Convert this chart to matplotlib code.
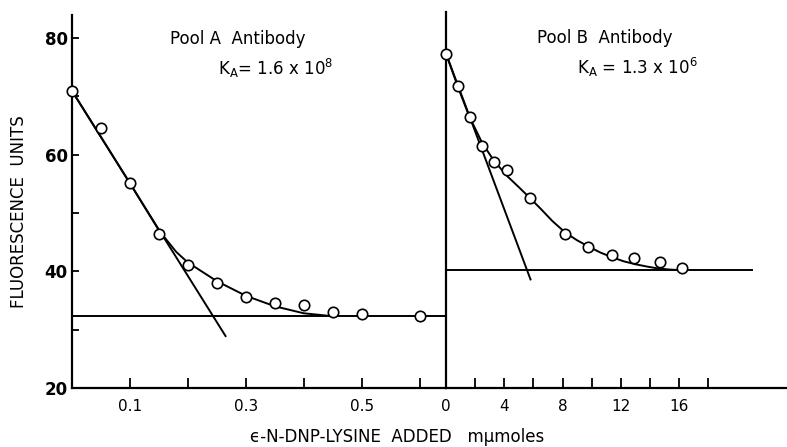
import numpy as np
import matplotlib
matplotlib.use("Agg")
import matplotlib.pyplot as plt

# Pool A antibody: DNP-lysine added (mumoles) vs fluorescence
pool_a_x = [0.0, 0.05, 0.10, 0.15, 0.20, 0.25, 0.30, 0.35, 0.40, 0.45, 0.50, 0.60]
pool_a_y = [70.9, 64.6, 55.1, 46.4, 41.1, 38.0, 35.6, 34.5, 34.2, 33.0, 32.6, 32.4]
# hand-drawn curve through the pool A points
curve_a_x = [0.0, 0.10, 0.15, 0.18, 0.20, 0.25, 0.30, 0.35, 0.40, 0.44]
curve_a_y = [70.9, 55.1, 47.0, 43.3, 41.5, 38.3, 35.8, 34.0, 32.8, 32.4]
tangent_a_x = [0.0, 0.265]
tangent_a_y = [70.9, 28.9]
plateau_a = 32.3

# Pool B antibody
pool_b_x = [0.0, 0.82, 1.62, 2.47, 3.29, 4.19, 5.74, 8.19, 9.75, 11.4, 12.9, 14.7, 16.2]
pool_b_y = [77.3, 71.7, 66.4, 61.5, 58.7, 57.4, 52.6, 46.4, 44.1, 42.7, 42.3, 41.5, 40.6]
curve_b_x = [0.0, 0.8, 1.6, 2.5, 3.3, 4.2, 5.0, 5.7, 6.5, 7.3, 8.2, 9.0, 9.8, 10.6,
             11.4, 12.2, 13.0, 13.8, 14.5, 15.3, 16.0]
curve_b_y = [77.3, 71.7, 66.5, 61.9, 58.9, 56.3, 54.4, 52.7, 50.7, 48.6, 46.6, 45.3,
             44.2, 43.2, 42.4, 41.7, 41.2, 40.8, 40.5, 40.3, 40.2]
tangent_b_x = [0.0, 5.8]
tangent_b_y = [77.3, 38.6]
plateau_b = 40.2

W, H = 787, 447
fig = plt.figure(figsize=(W / 100, H / 100), dpi=100)

def px_rect(x0, x1, ytop, ybot):
    return [x0 / W, 1 - ybot / H, (x1 - x0) / W, (ybot - ytop) / H]

ax1 = fig.add_axes(px_rect(72, 446, 15, 388))
ax2 = fig.add_axes(px_rect(446, 787, 15, 388))

lw = 1.4

for ax in (ax1, ax2):
    ax.set_ylim(20, 83.9)
    for s in ("top", "right"):
        ax.spines[s].set_visible(False)
    ax.spines["left"].set_linewidth(1.6)
    ax.spines["bottom"].set_linewidth(1.6)
    ax.tick_params(axis="x", direction="in", length=7, width=1.3, pad=8,
                   labelsize=11)
    ax.set_facecolor("none")

# left panel
ax1.set_xlim(0, 0.6455)
ax1.set_xticks([0.1, 0.3, 0.5])
ax1.set_xticklabels(["0.1", "0.3", "0.5"])
ax1.set_xticks([0.2, 0.4, 0.6], minor=True)
ax1.tick_params(axis="x", which="minor", direction="in", length=7, width=1.3)
ax1.set_yticks([20, 40, 60, 80])
ax1.set_yticks([30, 50, 70], minor=True)
ax1.tick_params(axis="y", which="both", direction="in", length=5, width=1.3,
                labelsize=12, pad=3)
for t in ax1.get_yticklabels():
    t.set_fontweight("bold")

ax1.plot(curve_a_x, curve_a_y, color="black", lw=lw, zorder=2)
ax1.plot(tangent_a_x, tangent_a_y, color="black", lw=lw, zorder=2)
ax1.axhline(plateau_a, color="black", lw=lw, zorder=2)
ax1.plot(pool_a_x, pool_a_y, "o", ms=7.5, mfc="white", mec="black", mew=1.2,
         zorder=3, clip_on=False)
ax1.text(0.169, 79.8, "Pool A  Antibody", fontsize=12, va="center")
ax1.text(0.252, 74.8, r"K$_\mathregular{A}$= 1.6 x 10$^\mathregular{8}$",
         fontsize=12, va="center")

# right panel
ax2.set_xlim(0, 23.4)
ax2.set_xticks([0, 4, 8, 12, 16])
ax2.set_xticks([2, 6, 10, 14, 18], minor=True)
ax2.tick_params(axis="x", which="minor", direction="in", length=7, width=1.3)
ax2.set_yticks([])
ax2.spines["left"].set_bounds(20, 84.4)

ax2.plot(curve_b_x, curve_b_y, color="black", lw=lw, zorder=2)
ax2.plot(tangent_b_x, tangent_b_y, color="black", lw=lw, zorder=2)
ax2.plot([0, 21.0], [plateau_b, plateau_b], color="black", lw=lw, zorder=2)
ax2.plot(pool_b_x, pool_b_y, "o", ms=7.5, mfc="white", mec="black", mew=1.2,
         zorder=3, clip_on=False)
ax2.text(6.25, 79.9, "Pool B  Antibody", fontsize=12, va="center")
ax2.text(9.0, 75.0, r"K$_\mathregular{A}$ = 1.3 x 10$^\mathregular{6}$",
         fontsize=12, va="center")

fig.text(19 / W, 1 - 212 / H, "FLUORESCENCE  UNITS", rotation=90,
         ha="center", va="center", fontsize=12)
fig.text(397 / W, 1 - 437 / H, "\u03f5-N-DNP-LYSINE  ADDED   m\u03bcmoles",
         ha="center", va="center", fontsize=12)

fig.savefig("out.png", dpi=100)
